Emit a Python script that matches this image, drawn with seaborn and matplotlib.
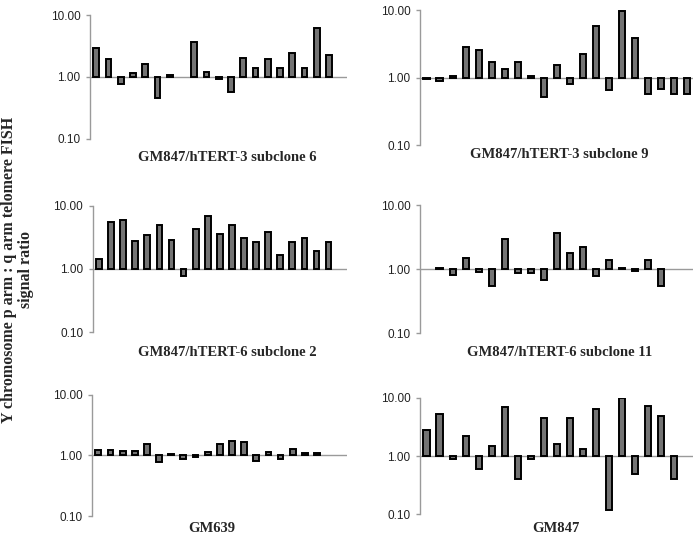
import numpy as np
import pandas as pd
import seaborn as sns
import matplotlib.pyplot as plt

# signal ratios per subclone, 21 slots, None = no bar
sub3_6 = [2.9, 1.93, 0.78, 1.15, 1.6, 0.45, 1.06, None, 3.7, 1.22, 0.94, 0.57,
          2.0, 1.41, 1.93, 1.41, 2.4, 1.41, 6.2, 2.24, None]
sub3_9 = [0.97, 0.90, 1.06, 2.9, 2.6, 1.71, 1.33, 1.71, 1.05, 0.52, 1.52, 0.80,
          2.27, 5.8, 0.65, 9.8, 3.9, 0.58, 0.69, 0.58, 0.58]
sub6_2 = [1.43, 5.5, 5.9, 2.8, 3.4, 4.9, 2.9, 0.78, 4.35, 7.0, 3.6, 4.9,
          3.1, 2.67, 3.8, 1.69, 2.67, 3.1, 1.89, 2.67, None]
sub6_11 = [None, 1.05, 0.80, 1.47, 0.89, 0.54, 2.94, 0.88, 0.88, 0.69, 3.74, 1.8,
           2.2, 0.79, 1.4, 1.06, 0.93, 1.38, 0.54, None, None]
gm639 = [1.25, 1.25, 1.2, 1.2, 1.56, 0.77, 1.06, 0.88, 0.94, 1.16, 1.54, 1.7,
         1.64, 0.8, 1.16, 0.89, 1.26, 1.1, 1.09, None, None]
gm847 = [2.77, 5.2, 0.9, 2.2, 0.60, 1.47, 7.1, 0.41, 0.9, 4.6, 1.59, 4.6,
         1.34, 6.4, 0.119, 10.0, 0.50, 7.3, 4.9, 0.41, None]

titles = ["GM847/hTERT-3 subclone 6", "GM847/hTERT-3 subclone 9",
          "GM847/hTERT-6 subclone 2", "GM847/hTERT-6 subclone 11",
          "GM639", "GM847"]
series = [sub3_6, sub3_9, sub6_2, sub6_11, gm639, gm847]

tick_vals = [0.1, 1.0, 10.0]
tick_labels = ["0.10", "1.00", "10.00"]

sns.set_style("white")
plt.rcParams['font.family'] = ['Liberation Sans', 'DejaVu Sans']

fig = plt.figure(figsize=(6.99, 5.4), dpi=100)

# [left, bottom, width, height] in figure fraction, title x/y
boxes = [
    ([0.129, 0.743, 0.368, 0.229], 0.325, 0.709),
    ([0.601, 0.731, 0.391, 0.250], 0.800, 0.713),
    ([0.133, 0.385, 0.363, 0.234], 0.325, 0.348),
    ([0.601, 0.383, 0.391, 0.237], 0.800, 0.348),
    ([0.132, 0.044, 0.365, 0.225], 0.303, 0.022),
    ([0.601, 0.048, 0.391, 0.215], 0.795, 0.022),
]

for vals, title, (box, tx, ty) in zip(series, titles, boxes):
    ax = fig.add_axes(box)
    df = pd.DataFrame({"pos": range(len(vals)),
                       "ratio": [np.nan if v is None else v for v in vals]})
    df["logr"] = np.log10(df["ratio"])
    sns.barplot(data=df, x="pos", y="logr", order=list(range(len(vals))),
                color="#737373", edgecolor="black", linewidth=1.4,
                width=0.48, saturation=1, errorbar=None, ax=ax)
    ax.set_ylim(-1, 1)
    ax.set_xlim(-0.5, len(vals) - 0.5)
    ax.axhline(0, color="#9a9a9a", linewidth=1.0, zorder=0)
    ax.set_yticks(np.log10(tick_vals))
    ax.set_yticklabels(tick_labels)
    ax.set_xticks([])
    ax.set_xlabel("")
    ax.set_ylabel("")
    for s in ["top", "right", "bottom"]:
        ax.spines[s].set_visible(False)
    ax.spines["left"].set_color("#9a9a9a")
    ax.spines["left"].set_linewidth(1.0)
    ax.tick_params(axis="y", left=True, length=3, width=1, color="#9a9a9a",
                   labelsize=8.5, pad=4, labelcolor="#222222")
    fig.text(tx, ty, title, ha="center", va="center", fontsize=10.5,
             fontweight="bold", family=["Liberation Serif", "DejaVu Serif"])

fig.text(0.013, 0.5, "Y chromosome p arm : q arm telomere FISH",
         rotation=90, ha="center", va="center", fontsize=11.5,
         fontweight="bold", family=["Liberation Serif", "DejaVu Serif"])
fig.text(0.037, 0.5, "signal ratio", rotation=90, ha="center", va="center",
         fontsize=11.5, fontweight="bold",
         family=["Liberation Serif", "DejaVu Serif"])

fig.savefig("out.png", dpi=100)
